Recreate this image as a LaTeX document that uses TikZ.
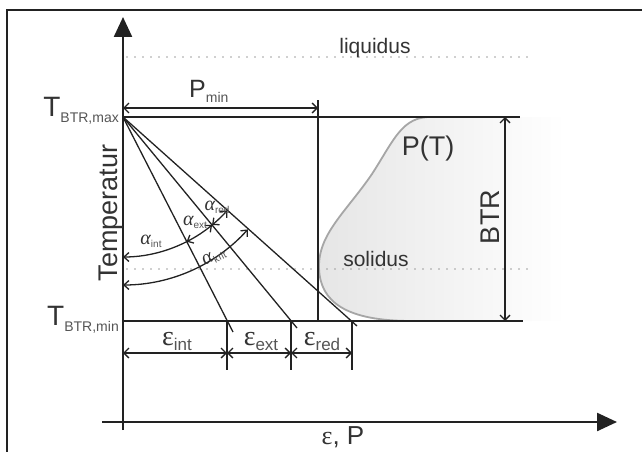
\documentclass[tikz,border=0pt]{standalone}
\usepackage{fontspec}
\setmainfont{Liberation Sans}
\newfontfamily\grk{Liberation Serif}
\usetikzlibrary{arrows.meta}

\definecolor{ink}{HTML}{222222}
\definecolor{txt}{HTML}{333333}
\definecolor{subtxt}{HTML}{555555}

\newcommand{\fs}[1]{\fontsize{#1}{#1}\selectfont}
\newcommand{\Tlab}[1]{{\fs{28}T}\raisebox{-6pt}{\fs{14}\color{subtxt}#1}}
\newcommand{\elab}[1]{{\fs{28}\grk ε}\raisebox{-5pt}{\fs{17}\color{subtxt}#1}}
\newcommand{\alab}[1]{{\fs{20}\grk\itshape α}\raisebox{-3pt}{\fs{10}\color{subtxt}#1}}

\begin{document}
\begin{tikzpicture}[x=1pt,y=-1pt,
  line/.style={ink, line width=1.3pt},
  axis/.style={ink, line width=2.4pt, -{Triangle[length=20pt,width=18pt]}},
  dim/.style={line, {Straight Barb[length=5pt,width=10pt]}-{Straight Barb[length=5pt,width=10pt]}},
  arc1/.style={line, {Straight Barb[length=5pt,width=9pt]}-},
  arc2/.style={line, {Straight Barb[length=5pt,width=9pt]}-{Straight Barb[length=5pt,width=9pt]}},
  dots/.style={gray!75, line width=1.6pt, line cap=round, dash pattern=on 0pt off 8pt},
  lab/.style={text=txt, inner sep=0pt},
  alabel/.style={text=txt, inner sep=0pt}]
\useasboundingbox (0,0) rectangle (642,452);
% frame
\draw[ink, line width=1.8pt] (7,452) -- (7,10) -- (642,10);

% P(T) region
\shade[left color=black!10, right color=white]
  (432,117) .. controls (402,116) and (394,140) .. (372,174)
  .. controls (346,212) and (318,234) .. (319,268)
  .. controls (320,302) and (346,321) .. (412,321)
  -- (565,321) -- (565,117) -- cycle;
\draw[gray!70, line width=1.8pt]
  (432,117) .. controls (402,116) and (394,140) .. (372,174)
  .. controls (346,212) and (318,234) .. (319,268)
  .. controls (320,302) and (346,321) .. (412,321);

% coordinates
\coordinate (ytip) at (123,17);
\coordinate (ybot) at (123,430);
\coordinate (xbeg) at (102,422);
\coordinate (xtip) at (617,422);
\coordinate (tmax) at (123,117);
\coordinate (tmaxR) at (520,117);
\coordinate (tmin) at (123,321);
\coordinate (tminR) at (523,321);
\coordinate (eint) at (227,321);
\coordinate (eext) at (291,321);
\coordinate (ered) at (352,321);
\coordinate (fint) at (233,332);
\coordinate (fext) at (297,328);
\coordinate (fred) at (357,326);
\coordinate (pmin) at (318,321);
\coordinate (pminT) at (318,100);

% dotted levels
\draw[dots] (127,57) -- (528,57);
\draw[dots] (127,269) -- (528,269);
\node[lab, font=\fs{21}, anchor=base] (liq) at (375,53) {liquidus};
\node[lab, font=\fs{21}, anchor=base] (sol) at (376,266) {solidus};

% axes
\draw[axis] (ybot) -- (ytip);
\draw[axis] (xbeg) -- (xtip);
\node[lab, font=\fs{27}, rotate=90, anchor=base] (temp) at (117,213) {Temperatur};
\node[lab, font=\fs{26}, anchor=base] (xlab) at (343,444) {{\grk ε}, P};

% BTR range
\draw[line] (tmax) -- (tmaxR);
\draw[line] (tmin) -- (tminR);
\node[lab, anchor=base east] (tmaxlab) at (119,116) {\Tlab{BTR,max}};
\node[lab, anchor=base east] (tminlab) at (119,325) {\Tlab{BTR,min}};
\draw[dim] (505,117) -- (505,321);
\node[lab, font=\fs{27}, rotate=90, anchor=base] (btr) at (499,217) {BTR};
\node[lab, font=\fs{27}, anchor=base] (pt) at (428,155) {P(T)};

% P_min
\draw[line] (pmin) -- (pminT);
\draw[dim] (tmax |- 0,108) -- (pmin |- 0,108);
\node[lab, anchor=base west] (pminlab) at (189,97) {{\fs{25}P}\raisebox{-5pt}{\fs{14}\color{subtxt}min}};

% strain lines
\draw[line] (tmax) -- (fint);
\draw[line] (tmax) -- (fext);
\draw[line] (tmax) -- (fred);
\draw[line] (eint) -- ++(0,49);
\draw[line] (eext) -- ++(0,49);
\draw[line] (ered) -- ++(0,49);
\draw[dim] (tmin |- 0,353) -- (eint |- 0,353);
\draw[dim] (eint |- 0,353) -- (eext |- 0,353);
\draw[dim] (eext |- 0,353) -- (ered |- 0,353);
\node[lab, anchor=base] (eintlab) at (177,345) {\elab{int}};
\node[lab, anchor=base] (eextlab) at (261,345) {\elab{ext}};
\node[lab, anchor=base] (eredlab) at (322,345) {\elab{red}};

% angles
\draw[arc1] (tmax) ++(90:140) arc[start angle=90, end angle=63, radius=140];
\draw[arc2] (tmax) ++(63:140) arc[start angle=63, end angle=50.5, radius=140];
\draw[arc2] (tmax) ++(50.5:140) arc[start angle=50.5, end angle=41.8, radius=140];
\draw[arc2] (tmax) ++(90:168) arc[start angle=90, end angle=42, radius=168];
\node[alabel] (aint) at (151,241) {\alab{int}};
\node[alabel] (aext) at (195,222) {\alab{ext}};
\node[alabel] (ared) at (217,207) {\alab{red}};
\node[alabel, rotate=27] (akrit) at (214,257) {\alab{krit}};
\end{tikzpicture}
\end{document}
